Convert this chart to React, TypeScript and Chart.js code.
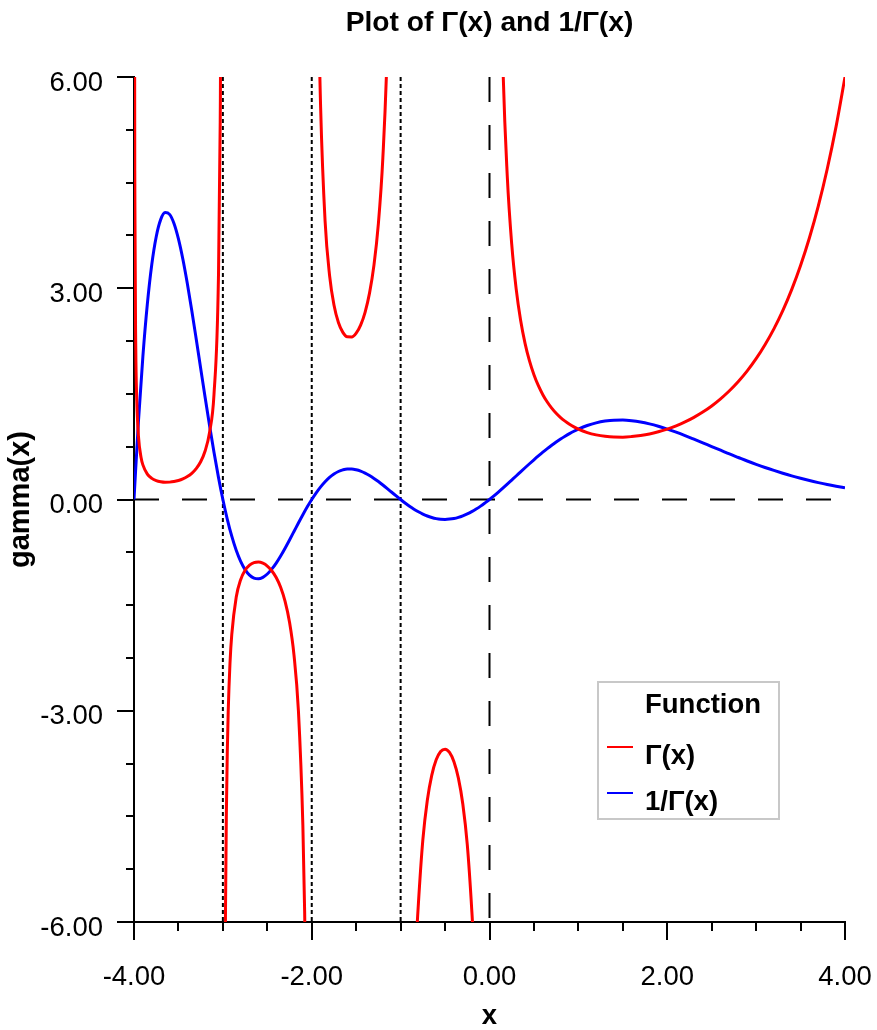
import React, { useEffect, useRef } from "react";
import { Chart, registerables } from "chart.js";

Chart.register(...registerables);

const FONT_FAMILY = "'Liberation Sans', Arial, Helvetica, sans-serif";
const FONT_SIZE = 27.5;

const TITLE = "Plot of Γ(x) and 1/Γ(x)";
const X_TITLE = "x";
const Y_TITLE = "gamma(x)";
const LEGEND_TITLE = "Function";
const SERIES_LABELS = ["Γ(x)", "1/Γ(x)"];
const SERIES_COLORS = ["#ff0000", "#0000ff"];

const X_MIN = -4;
const X_MAX = 4;
const Y_MIN = -6;
const Y_MAX = 6;
const X_MAJOR_STEP = 2;
const X_MINOR_STEP = 0.5;
const Y_MAJOR_STEP = 3;
const Y_MINOR_STEP = 0.75;

// dotted asymptote positions and dashed zero lines
const POLE_LINES = [-3, -2, -1];
const ZERO_X = 0;
const ZERO_Y = 0;

// Γ(x) values (null = pole, breaks the line)
const gammaX = [
  -3.998, -3.995, -3.99, -3.98, -3.97, -3.95, -3.92, -3.9, -3.85, -3.8, -3.75, -3.7, -3.65, -3.6,
  -3.55, -3.5, -3.45, -3.4, -3.35, -3.3, -3.25, -3.2, -3.15, -3.1, -3.05, -3.03, -3.02, -3.01,
  -3,
  -2.99, -2.98, -2.97, -2.96, -2.95, -2.94, -2.92, -2.9, -2.85, -2.8, -2.75, -2.7, -2.65, -2.6,
  -2.55, -2.5, -2.45, -2.4, -2.35, -2.3, -2.25, -2.2, -2.15, -2.1, -2.08, -2.07, -2.05, -2.02,
  -2,
  -1.98, -1.95, -1.92, -1.9, -1.85, -1.8, -1.75, -1.7, -1.65, -1.6, -1.55, -1.5, -1.45, -1.4,
  -1.35, -1.3, -1.25, -1.2, -1.15, -1.1, -1.05,
  -1,
  -0.95, -0.9, -0.85, -0.82, -0.8, -0.75, -0.7, -0.65, -0.6, -0.55, -0.5, -0.45, -0.4, -0.35,
  -0.3, -0.25, -0.2, -0.18, -0.15, -0.1, -0.05,
  0,
  0.05, 0.1, 0.15, 0.2, 0.25, 0.3, 0.35, 0.4, 0.45, 0.5, 0.55, 0.6, 0.65, 0.7, 0.75, 0.8, 0.85,
  0.9, 0.95, 1.0, 1.1, 1.2, 1.3, 1.4, 1.5, 1.6, 1.7, 1.8, 1.9, 2.0, 2.1, 2.2, 2.3, 2.4, 2.5, 2.6,
  2.7, 2.8, 2.9, 3.0, 3.1, 3.2, 3.3, 3.4, 3.5, 3.6, 3.7, 3.8, 3.9, 4.0,
];
const gammaY = [
  20.9, 8.4, 4.23, 2.148, 1.455, 0.902, 0.593, 0.492, 0.361, 0.3, 0.268, 0.252, 0.245, 0.247,
  0.255, 0.27, 0.293, 0.326, 0.372, 0.439, 0.536, 0.689, 0.952, 1.492, 3.142, 5.356, 8.129, 16.46,
  null,
  -16.88, -8.551, -5.777, -4.392, -3.563, -3.012, -2.326, -1.918, -1.388, -1.139, -1.005, -0.931,
  -0.896, -0.889, -0.905, -0.945, -1.011, -1.108, -1.247, -1.447, -1.743, -2.205, -3.0, -4.626,
  -5.843, -6.727, -9.585, -24.55,
  null,
  25.48, 10.51, 6.79, 5.563, 3.956, 3.188, 2.762, 2.514, 2.374, 2.311, 2.309, 2.363, 2.477, 2.659,
  2.931, 3.328, 3.921, 4.851, 6.449, 9.715, 19.65,
  null,
  -20.5, -10.57, -7.318, -6.202, -5.739, -4.834, -4.274, -3.917, -3.697, -3.578, -3.545, -3.591,
  -3.723, -3.957, -4.327, -4.902, -5.821, -6.301, -7.417, -10.69, -20.63,
  null,
  19.47, 9.514, 6.22, 4.591, 3.626, 2.992, 2.546, 2.218, 1.968, 1.772, 1.616, 1.489, 1.385, 1.298,
  1.225, 1.164, 1.113, 1.069, 1.032, 1.0, 0.951, 0.918, 0.897, 0.887, 0.886, 0.894, 0.909, 0.931,
  0.962, 1.0, 1.047, 1.102, 1.167, 1.242, 1.329, 1.43, 1.545, 1.676, 1.827, 2.0, 2.198, 2.424,
  2.683, 2.981, 3.323, 3.717, 4.171, 4.694, 5.299, 6.0,
];

// 1/Γ(x) values
const recipX = [
  -4, -3.95, -3.9, -3.85, -3.8, -3.75, -3.7, -3.65, -3.6, -3.55, -3.5, -3.45, -3.4, -3.35, -3.3,
  -3.25, -3.2, -3.15, -3.1, -3.05, -3, -2.95, -2.9, -2.85, -2.8, -2.75, -2.7, -2.65, -2.6, -2.55,
  -2.5, -2.45, -2.4, -2.35, -2.3, -2.25, -2.2, -2.15, -2.1, -2.05, -2, -1.95, -1.9, -1.85, -1.8,
  -1.75, -1.7, -1.65, -1.6, -1.55, -1.5, -1.45, -1.4, -1.35, -1.3, -1.25, -1.2, -1.15, -1.1, -1.05,
  -1, -0.95, -0.9, -0.85, -0.8, -0.75, -0.7, -0.65, -0.6, -0.55, -0.5, -0.45, -0.4, -0.35, -0.3,
  -0.25, -0.2, -0.15, -0.1, -0.05, 0, 0.05, 0.1, 0.15, 0.2, 0.25, 0.3, 0.35, 0.4, 0.45, 0.5, 0.55,
  0.6, 0.65, 0.7, 0.75, 0.8, 0.85, 0.9, 0.95, 1.0, 1.1, 1.2, 1.3, 1.4, 1.5, 1.6, 1.7, 1.8, 1.9, 2.0,
  2.1, 2.2, 2.3, 2.4, 2.5, 2.6, 2.7, 2.8, 2.9, 3.0, 3.1, 3.2, 3.3, 3.4, 3.5, 3.6, 3.7, 3.8, 3.9, 4.0,
];
const recipY = [
  0, 1.109, 2.033, 2.774, 3.338, 3.733, 3.975, 4.075, 4.05, 3.921, 3.702, 3.413, 3.068, 2.686, 2.28,
  1.865, 1.451, 1.05, 0.67, 0.318, 0, -0.281, -0.521, -0.721, -0.878, -0.996, -1.074, -1.116,
  -1.125, -1.105, -1.058, -0.989, -0.903, -0.802, -0.691, -0.574, -0.454, -0.333, -0.216, -0.104,
  0, 0.095, 0.18, 0.253, 0.314, 0.362, 0.398, 0.421, 0.433, 0.433, 0.423, 0.404, 0.376, 0.341, 0.3,
  0.255, 0.206, 0.155, 0.103, 0.051, 0, -0.049, -0.095, -0.137, -0.174, -0.207, -0.234, -0.255,
  -0.271, -0.28, -0.282, -0.278, -0.269, -0.253, -0.231, -0.204, -0.172, -0.135, -0.094, -0.048, 0,
  0.051, 0.105, 0.161, 0.218, 0.276, 0.334, 0.393, 0.451, 0.508, 0.564, 0.619, 0.672, 0.722, 0.77,
  0.816, 0.859, 0.899, 0.936, 0.97, 1.0, 1.051, 1.089, 1.114, 1.127, 1.128, 1.119, 1.101, 1.074,
  1.04, 1.0, 0.956, 0.908, 0.857, 0.805, 0.752, 0.7, 0.647, 0.597, 0.547, 0.5, 0.455, 0.413, 0.373,
  0.335, 0.301, 0.269, 0.24, 0.213, 0.189, 0.167,
];

const isMultiple = (v: number, step: number) =>
  Math.abs(v / step - Math.round(v / step)) < 1e-6;

const axesPlugin = {
  id: "axesTicks",
  beforeDatasetsDraw(chart: any) {
    const { ctx, chartArea: ca, scales } = chart;
    const xs = scales.x;
    const ys = scales.y;
    ctx.save();
    ctx.strokeStyle = "#000";
    ctx.lineWidth = 2;
    ctx.lineCap = "butt";
    ctx.beginPath();
    ctx.moveTo(ca.left, ca.top - 1);
    ctx.lineTo(ca.left, ca.bottom + 1);
    ctx.moveTo(ca.left - 1, ca.bottom);
    ctx.lineTo(ca.right + 1, ca.bottom);
    const nx = Math.round((X_MAX - X_MIN) / X_MINOR_STEP);
    for (let i = 0; i <= nx; i++) {
      const v = X_MIN + i * X_MINOR_STEP;
      const px = Math.round(xs.getPixelForValue(v));
      const len = isMultiple(v, X_MAJOR_STEP) ? 18 : 9;
      ctx.moveTo(px, ca.bottom);
      ctx.lineTo(px, ca.bottom + len);
    }
    const ny = Math.round((Y_MAX - Y_MIN) / Y_MINOR_STEP);
    for (let i = 0; i <= ny; i++) {
      const v = Y_MIN + i * Y_MINOR_STEP;
      const py = Math.round(ys.getPixelForValue(v));
      const len = isMultiple(v, Y_MAJOR_STEP) ? 17 : 8;
      ctx.moveTo(ca.left, py);
      ctx.lineTo(ca.left - len, py);
    }
    ctx.stroke();
    ctx.restore();
  },
};

const legendPlugin = {
  id: "boxLegend",
  afterDraw(chart: any) {
    const { ctx, chartArea: ca } = chart;
    const bx = ca.right - 247;
    const by = ca.bottom - 240;
    const bw = 181;
    const bh = 137;
    ctx.save();
    ctx.fillStyle = "#ffffff";
    ctx.fillRect(bx, by, bw, bh);
    ctx.strokeStyle = "#c8c8c8";
    ctx.lineWidth = 2;
    ctx.strokeRect(bx, by, bw, bh);
    ctx.fillStyle = "#000";
    ctx.font = `bold ${FONT_SIZE}px ${FONT_FAMILY}`;
    ctx.textAlign = "left";
    ctx.textBaseline = "alphabetic";
    ctx.fillText(LEGEND_TITLE, bx + 47, by + 31);
    const items = chart.data.datasets.filter((d: any) => d.inLegend);
    items.forEach((d: any, i: number) => {
      const ly = by + 65 + i * 46;
      ctx.strokeStyle = d.borderColor;
      ctx.lineWidth = 2;
      ctx.beginPath();
      ctx.moveTo(bx + 9, ly);
      ctx.lineTo(bx + 35, ly);
      ctx.stroke();
      ctx.fillStyle = "#000";
      ctx.fillText(d.label, bx + 47, ly + 17);
    });
    ctx.restore();
  },
};

export default function App() {
  const canvasRef = useRef<HTMLCanvasElement | null>(null);

  useEffect(() => {
    if (!canvasRef.current) return;
    Chart.defaults.font.family = FONT_FAMILY;
    Chart.defaults.color = "#000";

    const toPoints = (xs: number[], ys: (number | null)[]) =>
      xs.map((x, i) => ({ x, y: ys[i] }));

    const refLine = (data: { x: number; y: number }[], dash: number[]) => ({
      label: "",
      data,
      showLine: true,
      borderColor: "#000",
      borderWidth: 2,
      borderDash: dash,
      pointRadius: 0,
      fill: false,
      order: 2,
      inLegend: false,
    });

    const curve = (label: string, color: string, data: any[]) => ({
      label,
      data,
      showLine: true,
      borderColor: color,
      backgroundColor: color,
      borderWidth: 3,
      borderJoinStyle: "round",
      cubicInterpolationMode: "monotone",
      pointRadius: 0,
      spanGaps: false,
      order: 0,
      inLegend: true,
    });

    const datasets: any[] = [
      curve(SERIES_LABELS[0], SERIES_COLORS[0], toPoints(gammaX, gammaY)),
      curve(SERIES_LABELS[1], SERIES_COLORS[1], toPoints(recipX, recipY)),
      refLine(
        [
          { x: X_MIN, y: ZERO_Y },
          { x: X_MAX, y: ZERO_Y },
        ],
        [25, 23]
      ),
      refLine(
        [
          { x: ZERO_X, y: Y_MAX },
          { x: ZERO_X, y: Y_MIN },
        ],
        [25, 23]
      ),
      ...POLE_LINES.map((p) =>
        refLine(
          [
            { x: p, y: Y_MAX },
            { x: p, y: Y_MIN },
          ],
          [4, 3]
        )
      ),
    ];

    const chart = new Chart(canvasRef.current, {
      type: "scatter",
      data: { datasets },
      plugins: [axesPlugin, legendPlugin],
      options: {
        animation: false,
        responsive: false,
        devicePixelRatio: 1,
        events: [],
        layout: { padding: { left: 0, right: 32, top: 0, bottom: 0 } },
        plugins: {
          legend: { display: false },
          tooltip: { enabled: false },
          title: {
            display: true,
            fullSize: false,
            text: TITLE,
            color: "#000",
            font: { size: 28.2, weight: "bold", family: FONT_FAMILY },
            padding: { top: 6, bottom: 37.2 },
          },
        },
        scales: {
          x: {
            type: "linear",
            min: X_MIN,
            max: X_MAX,
            grid: { display: false, drawTicks: false },
            border: { display: false },
            ticks: {
              stepSize: X_MAJOR_STEP,
              maxRotation: 0,
              padding: 39,
              color: "#000",
              font: { size: FONT_SIZE, family: FONT_FAMILY },
              callback: (v: any) => Number(v).toFixed(2),
            },
            title: {
              display: true,
              text: X_TITLE,
              color: "#000",
              font: { size: FONT_SIZE, weight: "bold", family: FONT_FAMILY },
              padding: { top: 0, bottom: -3 },
            },
            afterFit: (s: any) => {
              s.height = 108;
              s.paddingLeft = 0;
              s.paddingRight = 0;
            },
          },
          y: {
            type: "linear",
            min: Y_MIN,
            max: Y_MAX,
            grid: { display: false, drawTicks: false },
            border: { display: false },
            ticks: {
              stepSize: Y_MAJOR_STEP,
              padding: 31,
              labelOffset: 6,
              color: "#000",
              font: { size: FONT_SIZE, family: FONT_FAMILY },
              callback: (v: any) => Number(v).toFixed(2),
            },
            title: {
              display: true,
              text: Y_TITLE,
              color: "#000",
              font: { size: 29, weight: "bold", family: FONT_FAMILY },
              padding: { top: 4, bottom: 0 },
            },
            afterFit: (s: any) => {
              s.width = 134;
              s.paddingTop = 0;
              s.paddingBottom = 0;
            },
          },
        },
      } as any,
    });

    return () => chart.destroy();
  }, []);

  return (
    <div
      style={{
        position: "fixed",
        left: 0,
        top: 0,
        width: 877,
        height: 1030,
        background: "#fff",
      }}
    >
      <canvas
        ref={canvasRef}
        width={877}
        height={1030}
        style={{ width: 877, height: 1030, display: "block" }}
      />
    </div>
  );
}
